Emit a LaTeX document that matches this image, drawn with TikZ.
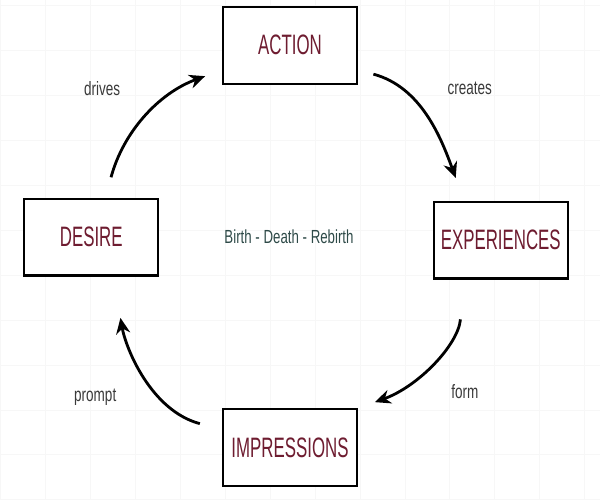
\documentclass[tikz,border=0pt]{standalone}
\usepackage{fontspec}
\setmainfont{Liberation Sans}
\newfontfamily\narrowfont[FakeStretch=0.6]{Liberation Sans}
\newfontfamily\smallfont[FakeStretch=0.7]{Liberation Sans}
\usetikzlibrary{arrows.meta}
\usetikzlibrary{calc,positioning}
\definecolor{boxred}{HTML}{6E1C30}
\definecolor{labelgray}{HTML}{3A3A3A}
\definecolor{cyclegreen}{HTML}{2E4A48}
\tikzset{
  stage/.style={rectangle,draw,line width=1.2pt,fill=white,minimum width=2.68cm,
    minimum height=1.54cm,inner sep=1pt,text=boxred,font=\narrowfont\fontsize{16}{17}\selectfont},
  cycarrow/.style={line width=1.6pt,-{Stealth[length=9pt,width=8pt]}},
  verb/.style={text=labelgray,font=\smallfont\fontsize{11}{12}\selectfont}
}

\begin{document}
\begin{tikzpicture}
            \fill[white] (0,0) rectangle (12,10);
            \draw[black!3,line width=0.4pt,step=0.9] (0,0) grid (12,10);
            \useasboundingbox (0,0) rectangle (12,10);
            \node[stage] (action) at (5.8,9.1) {ACTION};
            \node[stage] (desire) at (1.82,5.26) {DESIRE};
            \node[stage] (experiences) at (10.02,5.2) {EXPERIENCES};
            \node[stage] (impressions) at (5.8,1.04) {IMPRESSIONS};
            \node[text=cyclegreen,font=\smallfont\fontsize{10.8}{12}\selectfont] (cycle) at (5.78,5.26) {Birth - Death - Rebirth};
            \draw [cycarrow,shorten <=0.42cm,shorten >=0.36cm] (desire.70) to[out=75,in=200] (action.200);
            \draw [cycarrow,shorten <=0.32cm,shorten >=0.48cm] (action.-20) to[out=-15,in=110] (experiences.133);
            \draw [cycarrow,shorten <=0.8cm,shorten >=0.36cm] (experiences.227) to[out=-95,in=20] (impressions.north east);
            \draw [cycarrow,shorten <=0.46cm,shorten >=0.84cm] (impressions.165) to[out=165,in=-80] (desire.-61);
            \node[verb] (drives) at (2.04,8.24) {drives};
            \node[verb] (creates) at (9.4,8.24) {creates};
            \node[verb] (form) at (9.3,2.16) {form};
            \node[verb] (prompt) at (1.9,2.06) {prompt};
          \end{tikzpicture}
\end{document}
